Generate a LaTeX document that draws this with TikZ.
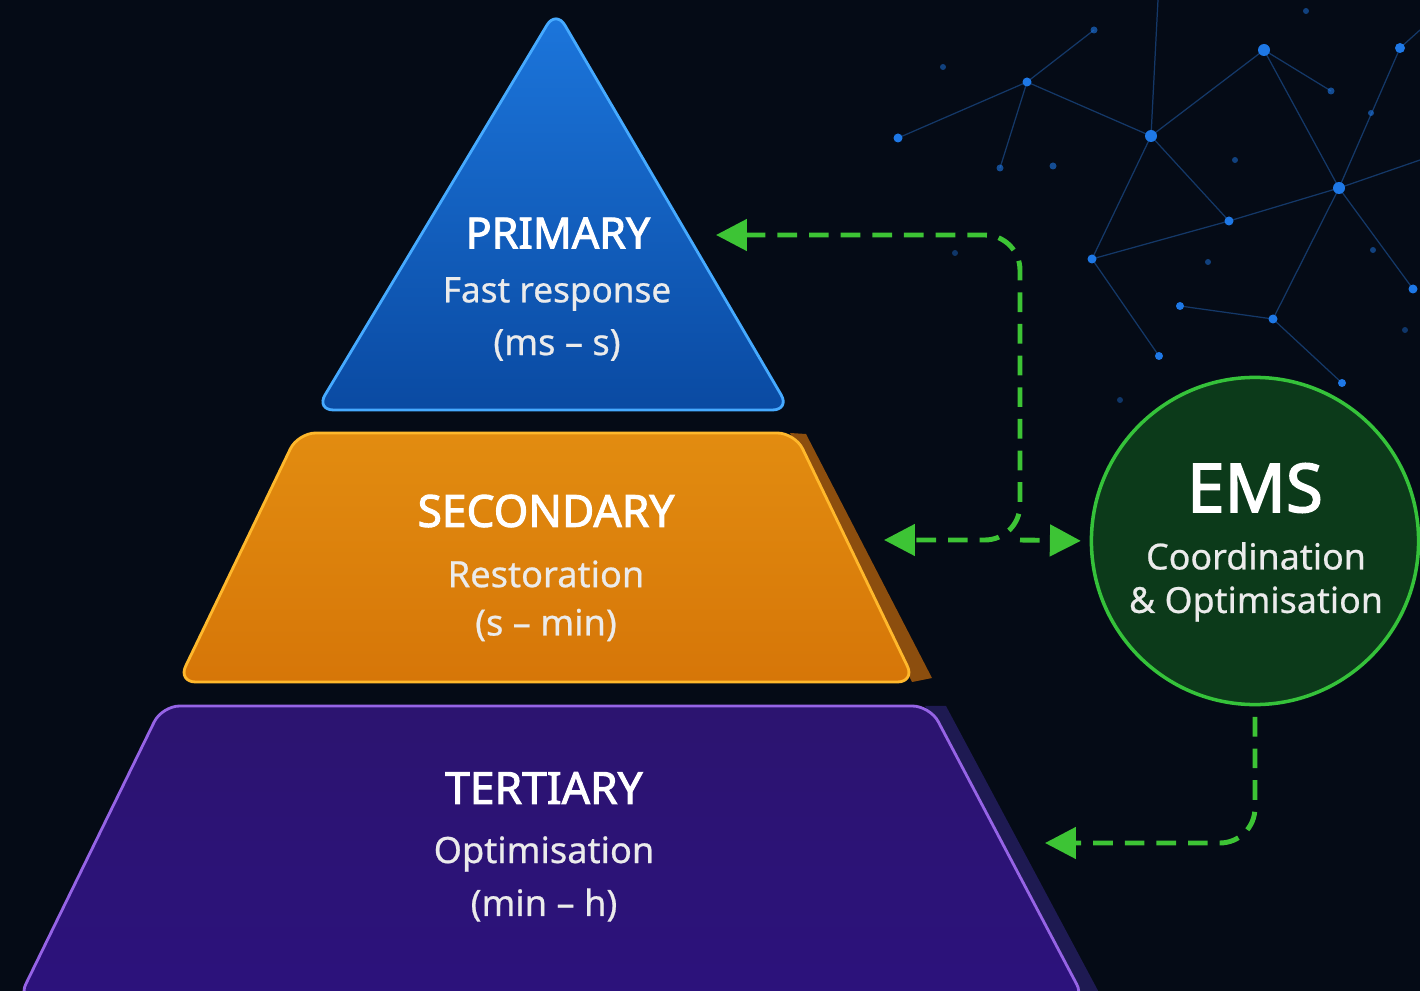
\documentclass[tikz,border=0pt]{standalone}
\usepackage{fontspec}
\setmainfont{Noto Sans}
\newfontfamily\titlefont{Noto Sans}[FakeBold=2.2]
\newfontfamily\subfont{Noto Sans}[FakeBold=0.6]
\usetikzlibrary{arrows.meta}
\definecolor{bg}{HTML}{050B16}
\definecolor{flowgreen}{HTML}{3DC435}
\definecolor{emsfill}{HTML}{0C3A1A}
\definecolor{emsedge}{HTML}{35C23A}
\definecolor{netblue}{HTML}{1E78E6}
\definecolor{netline}{HTML}{1B4C8C}
\definecolor{pritop}{RGB}{28,118,220}
\definecolor{pribot}{RGB}{10,74,162}
\definecolor{priedge}{RGB}{70,170,255}
\definecolor{secshadow}{RGB}{140,78,14}
\definecolor{sectop}{RGB}{226,140,16}
\definecolor{secbot}{RGB}{214,118,8}
\definecolor{secedge}{RGB}{255,184,44}
\definecolor{tershadow}{RGB}{30,26,82}
\definecolor{tertop}{RGB}{44,20,112}
\definecolor{terbot}{RGB}{44,18,124}
\definecolor{teredge}{RGB}{150,100,230}
\tikzset{
  flow/.style={draw=flowgreen, line width=1.4pt, dash pattern=on 5.6pt off 3.4pt,
               >={Triangle[length=8.8pt,width=8.8pt,fill=flowgreen]}},
  layertitle/.style={text=white, font=\titlefont\fontsize{12.6}{14}\selectfont, inner sep=0pt},
  layersub/.style={text=white!92!black, font=\subfont\fontsize{10.3}{12}\selectfont, inner sep=0pt},
  netdot/.style={fill=netblue, draw=none},
  netedge/.style={draw=netline, line width=0.35pt, opacity=0.7},
}
\begin{document}
\begin{tikzpicture}[x=0.01cm, y=-0.01cm]
\useasboundingbox (0,0) rectangle (1420,991);
\fill[bg] (0,0) rectangle (1420,991);

% background network (decorative)
\draw[netedge] (1151,136) -- (1264,50);
\draw[netedge] (1151,136) -- (1092,259);
\draw[netedge] (1151,136) -- (1027,82);
\draw[netedge] (1151,136) -- (1158,0);
\draw[netedge] (1151,136) -- (1229,221);
\draw[netedge] (1264,50) -- (1339,188);
\draw[netedge] (1264,50) -- (1331,91);
\draw[netedge] (1339,188) -- (1273,319);
\draw[netedge] (1339,188) -- (1400,48);
\draw[netedge] (1339,188) -- (1420,160);
\draw[netedge] (1339,188) -- (1413,289);
\draw[netedge] (1229,221) -- (1339,188);
\draw[netedge] (1092,259) -- (1229,221);
\draw[netedge] (1273,319) -- (1180,306);
\draw[netedge] (1273,319) -- (1342,383);
\draw[netedge] (1027,82) -- (1000,168);
\draw[netedge] (1027,82) -- (898,138);
\draw[netedge] (1027,82) -- (1094,30);
\draw[netedge] (1092,259) -- (1159,356);
\draw[netedge] (1400,48) -- (1420,30);
\fill[netdot] (1264,50) circle (6);
\fill[netdot] (1151,136) circle (6);
\fill[netdot] (1339,188) circle (6);
\fill[netdot] (1400,48) circle (5);
\fill[netdot] (1027,82) circle (4.5);
\fill[netdot] (898,138) circle (4.5);
\fill[netdot] (1229,221) circle (4.5);
\fill[netdot] (1092,259) circle (4.5);
\fill[netdot] (1273,319) circle (4.5);
\fill[netdot] (1180,306) circle (4);
\fill[netdot] (1413,289) circle (4.5);
\fill[netdot] (1159,356) circle (4);
\fill[netdot] (1342,383) circle (4);
\fill[netdot, opacity=0.6] (1000,168) circle (3.5);
\fill[netdot, opacity=0.6] (1053,166) circle (3.5);
\fill[netdot, opacity=0.6] (1094,30) circle (3.5);
\fill[netdot, opacity=0.6] (1331,91) circle (3.5);
\fill[netdot, opacity=0.6] (1371,113) circle (3);
\fill[netdot, opacity=0.5] (943,67) circle (3);
\fill[netdot, opacity=0.5] (1235,160) circle (3);
\fill[netdot, opacity=0.5] (1208,262) circle (3);
\fill[netdot, opacity=0.5] (1306,11) circle (3);
\fill[netdot, opacity=0.5] (1373,250) circle (3);
\fill[netdot, opacity=0.4] (955,253) circle (3);
\fill[netdot, opacity=0.4] (1405,330) circle (3);
\fill[netdot, opacity=0.4] (1120,400) circle (3);

% PRIMARY triangle
\coordinate (pA) at (556,10);
\coordinate (pL) at (316,410);
\coordinate (pR) at (790,410);
\shade[top color=pritop, bottom color=pribot, draw=priedge, line width=0.8pt, rounded corners=5]
  (pA) -- (pR) -- (pL) -- cycle;

% SECONDARY trapezoid
\fill[secshadow]
  (790,433) -- (806,434) -- (932,678) -- (912,682) -- cycle;
\shade[top color=sectop, bottom color=secbot, draw=secedge, line width=0.8pt, rounded corners=5]
  (298,433) -- (795,433) -- (915,682) -- (178,682) -- cycle;

% TERTIARY trapezoid
\fill[tershadow]
  (925,706) -- (946,706) -- (1103,1000) -- (1080,1000) -- cycle;
\shade[top color=tertop, bottom color=terbot, draw=teredge, line width=0.8pt, rounded corners=5]
  (162,706) -- (930,706) -- (1085,1000) -- (18,1000) -- cycle;

% layer texts
\node[layertitle, font=\titlefont\fontsize{12.2}{14}\selectfont] (pri) at (558,233) {PRIMARY};
\node[layersub, font=\subfont\fontsize{10}{12}\selectfont] (prisub) at (557,294) {Fast response};
\node[layersub] (pritime) at (557,345) {(ms – s)};
\node[layertitle] (sec) at (546,511) {SECONDARY};
\node[layersub] (secsub) at (546,574) {Restoration};
\node[layersub] (sectime) at (546,625) {(s – min)};
\node[layertitle] (ter) at (544,788) {TERTIARY};
\node[layersub] (tersub) at (544,854) {Optimisation};
\node[layersub] (tertime) at (544,905) {(min – h)};

% EMS
\node[circle, minimum size=3.27cm, fill=emsfill, draw=emsedge, line width=1pt, inner sep=0pt] (ems) at (1255,541) {};
\node[text=white, font=\titlefont\fontsize{19.2}{22}\selectfont, inner sep=0pt] (emst) at (1255,488) {EMS};
\node[text=white!92!black, font=\subfont\fontsize{10.2}{12}\selectfont, inner sep=0pt] (emss1) at (1256,556) {Coordination};
\node[text=white!92!black, font=\subfont\fontsize{10.2}{12}\selectfont, inner sep=0pt] (emss2) at (1256,604) {\& Optimisation};

% connector anchors
\coordinate (priR) at (716,235);
\coordinate (secR) at (884,540);
\coordinate (terR) at (1045,843);
\coordinate (hub) at (1020,540);
\coordinate (emsdown) at (1255,843);

% connectors
\draw[flow, rounded corners=10, <->] (priR) -| (hub) -- (secR);
\draw[flow, ->, shorten >=2.5pt] (hub) -- (ems.west);
\draw[flow, rounded corners=10, ->, shorten <=3pt] (ems.south) -- (emsdown) -- (terR);
\end{tikzpicture}
\end{document}
